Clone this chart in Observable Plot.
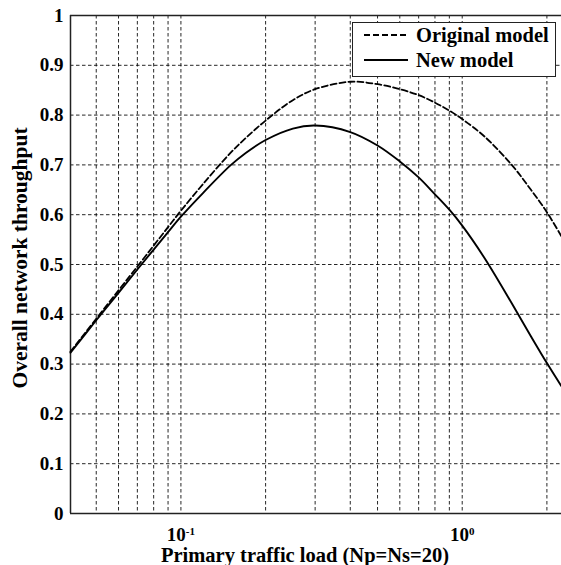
<!DOCTYPE html>
<html><head><meta charset="utf-8">
<script src="https://cdn.jsdelivr.net/npm/d3@7"></script>
<script src="https://cdn.jsdelivr.net/npm/@observablehq/plot@0.6"></script>
<style>
body{margin:0;background:#fff;}
#wrap{position:relative;width:561px;height:565px;overflow:hidden;}
.legend{position:absolute;left:352px;top:22px;width:204px;height:55px;box-sizing:border-box;border:1px solid #222;background:#fff;font:bold 20.5px "Liberation Serif",serif;color:#000;}
.legend .row{position:absolute;left:10px;height:22px;display:flex;align-items:center;white-space:nowrap;}
.legend svg{margin-right:8px;}
</style>
</head><body>
<div id="wrap"></div>
<script>
// Primary traffic load values (x) and throughput of the two models
const loads = [0.0405, 0.05, 0.06, 0.07, 0.08, 0.09, 0.1, 0.12, 0.15, 0.17, 0.2, 0.25, 0.3, 0.4, 0.5, 0.6, 0.7, 0.8, 0.9, 1.0, 1.2, 1.5, 1.75, 2.0, 2.25];
const originalModel = [0.325, 0.391, 0.448, 0.496, 0.538, 0.575, 0.608, 0.662, 0.724, 0.754, 0.789, 0.830, 0.852, 0.867, 0.862, 0.852, 0.840, 0.825, 0.809, 0.792, 0.757, 0.700, 0.651, 0.605, 0.557];
const newModel = [0.323, 0.388, 0.443, 0.490, 0.530, 0.565, 0.596, 0.644, 0.699, 0.724, 0.750, 0.773, 0.779, 0.766, 0.739, 0.707, 0.675, 0.641, 0.610, 0.578, 0.513, 0.422, 0.357, 0.302, 0.256];
const seriesNames = ["Original model", "New model"];
const xDomain = [0.0405, 2.254];
const xTicks = [0.1, 1];
const xGridValues = [0.05, 0.06, 0.07, 0.08, 0.09, 0.1, 0.2, 0.3, 0.4, 0.5, 0.6, 0.7, 0.8, 0.9, 1, 2];
const yTicks = [0, 0.1, 0.2, 0.3, 0.4, 0.5, 0.6, 0.7, 0.8, 0.9, 1];
const xLabel = "Primary traffic load (Np=Ns=20)";
const yLabel = "Overall network throughput";

const rows = [];
loads.forEach((x, i) => {
  rows.push({x, y: originalModel[i], s: seriesNames[0]});
  rows.push({x, y: newModel[i], s: seriesNames[1]});
});

const font = '"Liberation Serif", "Times New Roman", serif';

const chart = Plot.plot({
  width: 561,
  height: 565,
  marginLeft: 70,
  marginRight: 0,
  marginTop: 15,
  marginBottom: 52,
  style: {fontFamily: font, fontWeight: "bold", fontSize: "19px", background: "#fff", color: "#000", overflow: "visible"},
  x: {type: "log", domain: xDomain},
  y: {domain: [0, 1]},
  marks: [
    Plot.gridX(xGridValues, {stroke: "#000", strokeOpacity: 0.85, strokeDasharray: "3.5,2.5", strokeWidth: 1}),
    Plot.gridY(yTicks, {stroke: "#000", strokeOpacity: 0.85, strokeDasharray: "3.5,2.5", strokeWidth: 1}),
    Plot.axisY(yTicks, {tickSize: 0, tickPadding: 7, tickFormat: d => String(+d.toFixed(1)), label: null, fontSize: 19}),
    Plot.axisX(xTicks, {tickSize: 0, tickPadding: 14, tickFormat: d => String(Math.round(Math.log10(d))), label: null, fontSize: 19}),
    Plot.ruleY([yTicks[0], yTicks[yTicks.length - 1]], {stroke: "#222", strokeWidth: 1.5}),
    Plot.ruleX([xDomain[0]], {stroke: "#222", strokeWidth: 1.5}),
    Plot.line(rows.filter(d => d.s === seriesNames[0]), {x: "x", y: "y", stroke: "#000", strokeWidth: 1.8, strokeDasharray: "6,3", curve: "catmull-rom"}),
    Plot.line(rows.filter(d => d.s === seriesNames[1]), {x: "x", y: "y", stroke: "#000", strokeWidth: 1.9, curve: "catmull-rom"}),
    Plot.text([xLabel], {text: d => d, frameAnchor: "bottom", dy: 48, dx: -11, fontSize: 20.5, fontWeight: "bold", fill: "#000"}),
    Plot.text([yLabel], {text: d => d, frameAnchor: "left", textAnchor: "middle", rotate: -90, dx: -50, dy: -6.5, fontSize: 21.5, fontWeight: "bold", fill: "#000"})
  ]
});

// render x tick labels as 10 with superscript exponent
d3.select(chart).selectAll('g[aria-label="x-axis tick label"] text').each(function() {
  const t = d3.select(this);
  const exp = t.text();
  t.text(null);
  t.append("tspan").text("10");
  t.append("tspan").attr("dy", "-0.55em").attr("font-size", "11px").text(exp);
});

const wrap = document.getElementById("wrap");
wrap.appendChild(chart);

// legend inside the axes (HTML overlay)
const legend = document.createElement("div");
legend.className = "legend";
legend.innerHTML =
  `<div class="row" style="top:1px"><svg width="45" height="6"><line x1="1" x2="45" y1="3" y2="3" stroke="#000" stroke-width="2" stroke-dasharray="6,3"/></svg><span>${seriesNames[0]}</span></div>` +
  `<div class="row" style="top:26px"><svg width="45" height="6"><line x1="1" x2="45" y1="3" y2="3" stroke="#000" stroke-width="2"/></svg><span>${seriesNames[1]}</span></div>`;
wrap.appendChild(legend);
</script>
</body></html>
